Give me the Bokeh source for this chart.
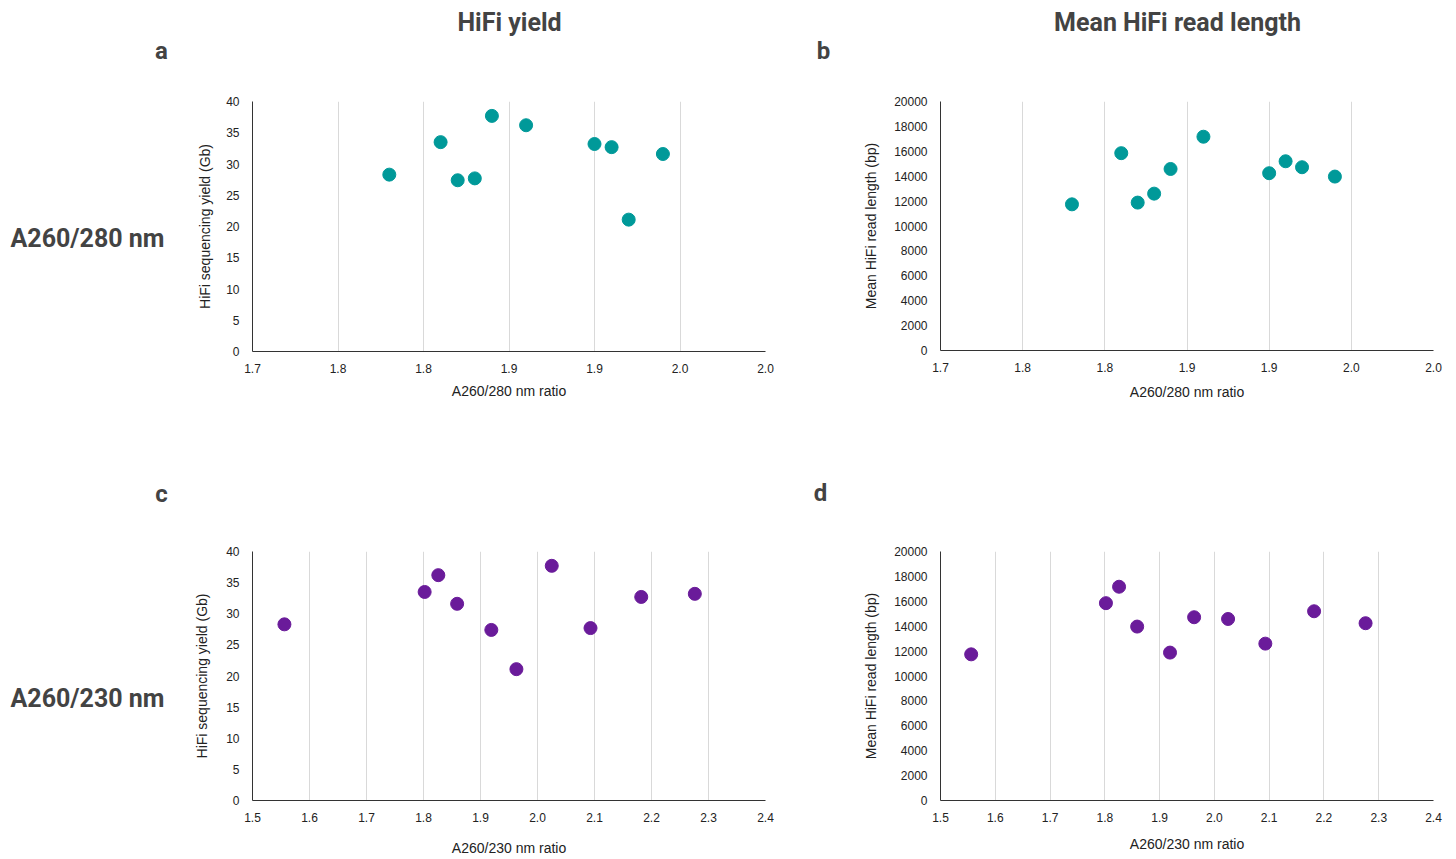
from bokeh.plotting import figure
from bokeh.models import Range1d, FixedTicker, ColumnDataSource
from bokeh.core.properties import value
from bokeh.layouts import column, row
from bokeh.embed import file_html
from bokeh.resources import INLINE

# ---- data (one entry per sample) ----
a260_280 = [1.78, 1.81, 1.82, 1.83, 1.84, 1.86, 1.90, 1.91, 1.92, 1.94]
a260_230 = [1.556, 1.802, 1.919, 2.093, 2.025, 1.826, 2.276, 2.182, 1.963, 1.859]
hifi_yield_gb = [28.3, 33.5, 27.4, 27.7, 37.7, 36.2, 33.2, 32.7, 21.1, 31.6]
mean_read_len_bp = [11740, 15850, 11880, 12600, 14580, 17170, 14240, 15200, 14720, 13970]

x280_ticks = [1.70, 1.75, 1.80, 1.85, 1.90, 1.95, 2.00]
x280_labels = ["1.7", "1.8", "1.8", "1.9", "1.9", "2.0", "2.0"]
x230_ticks = [1.5, 1.6, 1.7, 1.8, 1.9, 2.0, 2.1, 2.2, 2.3, 2.4]
x230_labels = ["1.5", "1.6", "1.7", "1.8", "1.9", "2.0", "2.1", "2.2", "2.3", "2.4"]
yield_ticks = [0, 5, 10, 15, 20, 25, 30, 35, 40]
len_ticks = [0, 2000, 4000, 6000, 8000, 10000, 12000, 14000, 16000, 18000, 20000]

col_titles = ["HiFi yield", "Mean HiFi read length"]
row_titles = ["A260/280 nm", "A260/230 nm"]
panel_letters = ["a", "b", "c", "d"]

TEAL = "#009999"
PURPLE = "#6a1b9a"
TICK_FONT = "Liberation Sans"
HEAD_FONT = "Roboto"
HEAD_COLOR = "#434343"

src = ColumnDataSource(dict(r280=a260_280, r230=a260_230, yld=hifi_yield_gb, rl=mean_read_len_bp))


def make_panel(frame_w, frame_h, borders, xr, yr, xticks, xlabels, yticks,
               xcol, ycol, color, xlabel, ylabel, tick_standoff, x_standoff, y_standoff):
    left, right, top, bottom = borders
    p = figure(frame_width=frame_w, frame_height=frame_h,
               min_border_left=left, min_border_right=right,
               min_border_top=top, min_border_bottom=bottom,
               x_range=Range1d(*xr), y_range=Range1d(*yr), frame_align=False,
               output_backend="svg", toolbar_location=None, tools="")
    p.outline_line_color = None
    p.background_fill_color = "white"
    p.border_fill_color = "white"
    p.scatter(x=xcol, y=ycol, source=src, size=13, color=color, line_color=color)

    p.xaxis.ticker = FixedTicker(ticks=xticks)
    p.xaxis.major_label_overrides = {t: l for t, l in zip(xticks, xlabels)}
    p.yaxis.ticker = FixedTicker(ticks=yticks)
    for ax in (p.xaxis, p.yaxis):
        ax.axis_line_color = "#333333"
        ax.axis_line_width = 1
        ax.major_tick_line_color = None
        ax.minor_tick_line_color = None
        ax.major_label_text_font = TICK_FONT
        ax.major_label_text_font_size = "12px"
        ax.major_label_text_color = "#222222"
        ax.axis_label_text_font = TICK_FONT
        ax.axis_label_text_font_size = "14px"
        ax.axis_label_text_font_style = "normal"
        ax.axis_label_text_color = "#222222"
    p.xaxis.major_label_standoff = tick_standoff
    p.yaxis.major_label_standoff = 7
    p.xaxis.axis_label = xlabel
    p.yaxis.axis_label = ylabel
    p.xaxis.axis_label_standoff = x_standoff
    p.yaxis.axis_label_standoff = y_standoff
    p.xgrid.ticker = FixedTicker(ticks=xticks)
    p.xgrid.grid_line_color = "#d9d9d9"
    p.xgrid.grid_line_width = 1
    p.ygrid.grid_line_color = None
    return p


def text_strip(w, h, items):
    """items: (text, x, y, size, align) in local pixel coords (y downwards)."""
    p = figure(width=w, height=h, x_range=Range1d(0, w), y_range=Range1d(h, 0),
               x_axis_type=None, y_axis_type=None, min_border=0, frame_align=False,
               output_backend="svg", toolbar_location=None, tools="")
    p.outline_line_color = None
    p.grid.visible = False
    p.background_fill_color = "white"
    p.border_fill_color = "white"
    for text, x, y, size, align in items:
        p.text(x=[x], y=[y], text=[text], text_font=value(HEAD_FONT),
               text_font_style="bold", text_font_size=size, text_color=HEAD_COLOR,
               text_align=align, text_baseline="middle")
    return p


# header strip: page y 0..80
header = text_strip(1456, 80, [
    (col_titles[0], 509, 22, "25px", "center"),
    (col_titles[1], 1177, 22, "25px", "center"),
    (panel_letters[0], 161, 50, "24px", "center"),
    (panel_letters[1], 823, 50, "24px", "center"),
])

# top row: page y 80..440
lab1 = text_strip(170, 360, [(row_titles[0], 10, 238 - 80, "25px", "left")])
pa = make_panel(513, 250, (82, 35, 21, 89), (1.7, 2.0), (0, 40),
                x280_ticks, x280_labels, yield_ticks, "r280", "yld", TEAL,
                "A260/280 nm ratio", "HiFi sequencing yield (Gb)", 6, 7, 10)
pb = make_panel(493, 249, (140, 23, 21, 90), (1.7, 2.0), (0, 20000),
                x280_ticks, x280_labels, len_ticks, "r280", "rl", TEAL,
                "A260/280 nm ratio", "Mean HiFi read length (bp)", 6, 9, 12)

# bottom row: page y 440..859
lab2 = text_strip(170, 419, [
    (panel_letters[2], 161, 493 - 440, "24px", "center"),
    (row_titles[1], 10, 698 - 440, "25px", "left"),
])
pc = make_panel(513, 249, (82, 35, 111, 59), (1.5, 2.4), (0, 40),
                x230_ticks, x230_labels, yield_ticks, "r230", "yld", PURPLE,
                "A260/230 nm ratio", "HiFi sequencing yield (Gb)", 6, 15, 13)
gap = text_strip(50, 419, [(panel_letters[3], 20, 492 - 440, "24px", "center")])
pd_ = make_panel(493, 249, (90, 23, 111, 59), (1.5, 2.4), (0, 20000),
                 x230_ticks, x230_labels, len_ticks, "r230", "rl", PURPLE,
                 "A260/230 nm ratio", "Mean HiFi read length (bp)", 6, 11, 12)

layout = column(header, row(lab1, pa, pb), row(lab2, pc, gap, pd_))
open("out.html", "w").write(file_html(layout, INLINE))
